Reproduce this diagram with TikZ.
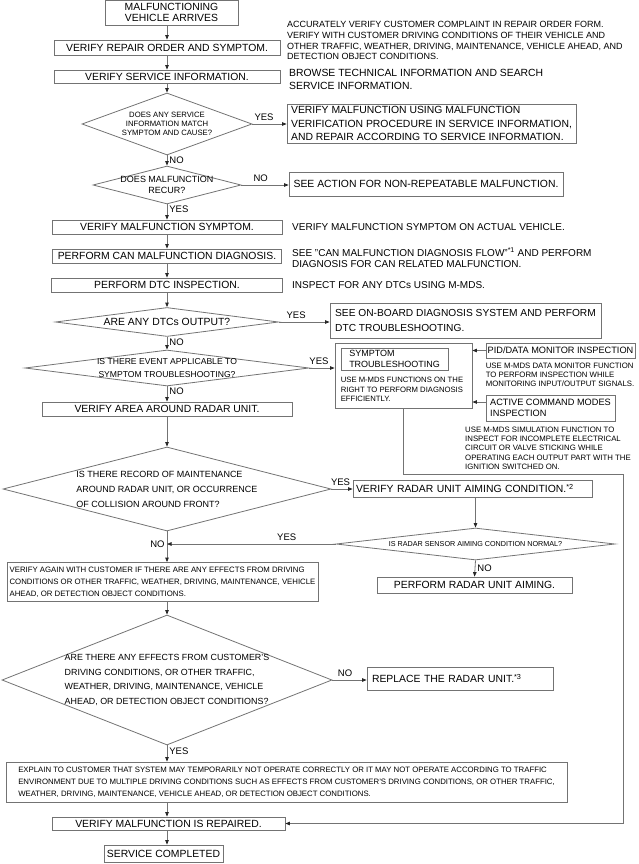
\documentclass[tikz,border=0pt]{standalone}
\usepackage{fontspec}
\setmainfont{Liberation Sans}
\usepackage{tikz}
\usetikzlibrary{positioning,arrows.meta,shapes.geometric}

\newcommand{\fmain}{\fontsize{10.4}{13.3}\selectfont}
\newcommand{\flab}{\fontsize{9.5}{11}\selectfont}
\newcommand{\fnote}{\fontsize{9}{10.8}\selectfont}
\newcommand{\fsmall}{\fontsize{7.8}{9.3}\selectfont}
\newcommand{\ftiny}{\fontsize{7.8}{12}\selectfont}

\begin{document}
\begin{tikzpicture}[x=1pt, y=-1pt,
        ln/.style={draw=black!55, line width=0.8pt},
        box/.style={ln, rectangle, inner xsep=3pt, inner ysep=0pt, align=center, font=\fmain},
        lbox/.style={box, align=left},
        dec/.style={ln, diamond, inner sep=0pt},
        dtext/.style={align=center, inner sep=0pt},
        arrow/.style={ln, -{Triangle[length=4.5pt, width=3.5pt, color=black!85]}},
        lab/.style={font=\flab, inner sep=0pt},
        note/.style={anchor=north west, align=left, inner sep=0pt, font=\fmain}
    ]
    \useasboundingbox (0,0) rectangle (639,864);

    \node[box, minimum width=133pt, minimum height=25pt, font=\fontsize{10.4}{11.5}\selectfont] (arrive) at (171.5,12.5) {MALFUNCTIONING\\VEHICLE ARRIVES};
    \node[box, minimum width=226pt, minimum height=15pt] (order)   at (167,47.5) {VERIFY REPAIR ORDER AND SYMPTOM.};
    \node[box, minimum width=226pt, minimum height=13pt] (svcinfo) at (167,76.5) {VERIFY SERVICE INFORMATION.};
    \node[dec, minimum width=170pt, minimum height=62pt] (match) at (167,124) {};
    \node[dtext, font=\fontsize{7.7}{8.9}\selectfont] (matchtxt) at (match) {DOES ANY SERVICE\\INFORMATION MATCH\\SYMPTOM AND CAUSE?};
    \node[lbox, minimum width=289pt, minimum height=39pt] (usevp) at (431.5,123.5) {VERIFY MALFUNCTION USING MALFUNCTION\\VERIFICATION PROCEDURE IN SERVICE INFORMATION,\\AND REPAIR ACCORDING TO SERVICE INFORMATION.};
    \node[dec, minimum width=148pt, minimum height=38pt] (recur) at (167,185) {};
    \node[dtext, font=\fontsize{9}{10.7}\selectfont] (recurtxt) at (recur) {DOES MALFUNCTION\\RECUR?};
    \node[box, minimum width=274pt, minimum height=24pt] (nonrep) at (426,184) {SEE ACTION FOR NON-REPEATABLE MALFUNCTION.};
    \node[box, minimum width=230pt, minimum height=14pt] (msym)   at (167,227) {VERIFY MALFUNCTION SYMPTOM.};
    \node[box, minimum width=229pt, minimum height=14pt] (canchk) at (167,256) {PERFORM CAN MALFUNCTION DIAGNOSIS.};
    \node[box, minimum width=231pt, minimum height=14pt] (dtcchk) at (167,285) {PERFORM DTC INSPECTION.};
    \node[dec, minimum width=223pt, minimum height=29pt] (dtcout) at (167,322) {};
    \node[dtext, font=\fmain] (dtcouttxt) at (dtcout) {ARE ANY DTCs OUTPUT?};
    \node[lbox, minimum width=271pt, minimum height=35pt, font=\fontsize{10.2}{14.5}\selectfont] (obd) at (465.5,320.5) {SEE ON-BOARD DIAGNOSIS SYSTEM AND PERFORM\\DTC TROUBLESHOOTING.};
    \node[dec, minimum width=284pt, minimum height=36pt] (event) at (167,368) {};
    \node[dtext, font=\fontsize{8.6}{13}\selectfont] (eventtxt) at (event) {IS THERE EVENT APPLICABLE TO\\SYMPTOM TROUBLESHOOTING?};

    \node[ln, rectangle, minimum width=137pt, minimum height=65pt] (symp) at (403.5,375.5) {};
    \node[box, align=left, minimum width=107pt, minimum height=22pt, font=\fontsize{9}{10.3}\selectfont, below right=5pt and 6pt of symp.north west] (stitle) {SYMPTOM\\TROUBLESHOOTING};
    \node[note, font=\fontsize{7.7}{9.7}\selectfont, below=6.5pt of stitle.south west, anchor=north west] (sdesc) {USE M-MDS FUNCTIONS ON THE\\RIGHT TO PERFORM DIAGNOSIS\\EFFICIENTLY.};
    \node[box, minimum width=149pt, minimum height=15pt, inner xsep=1pt, font=\fontsize{9.2}{11}\selectfont] (pid) at (560.5,350.5) {PID/DATA MONITOR INSPECTION};
    \node[note, font=\fsmall, below=4pt of pid.south west, anchor=north west] (piddesc) {USE M-MDS DATA MONITOR FUNCTION\\TO PERFORM INSPECTION WHILE\\MONITORING INPUT/OUTPUT SIGNALS.};
    \node[lbox, minimum width=129pt, minimum height=26pt, font=\fontsize{9.2}{11.5}\selectfont] (acm) at (550.5,408) {ACTIVE COMMAND MODES\\INSPECTION};
    \node[note, font=\fsmall] (acmdesc) at (465,426.5) {USE M-MDS SIMULATION FUNCTION TO\\INSPECT FOR INCOMPLETE ELECTRICAL\\CIRCUIT OR VALVE STICKING WHILE\\OPERATING EACH OUTPUT PART WITH THE\\IGNITION SWITCHED ON.};

    \node[box, minimum width=250pt, minimum height=14pt] (area) at (167,409) {VERIFY AREA AROUND RADAR UNIT.};
    \node[dec, minimum width=328pt, minimum height=84pt] (record) at (167,489) {};
    \node[dtext, align=left, font=\fontsize{9}{15}\selectfont] (recordtxt) at (record) {IS THERE RECORD OF MAINTENANCE\\AROUND RADAR UNIT, OR OCCURRENCE\\OF COLLISION AROUND FRONT?};
    \node[lbox, text width=233pt, minimum height=17pt] (aimcond) at (472.5,488.5) {VERIFY RADAR UNIT AIMING CONDITION.\textsuperscript{*2}};
    \node[dec, minimum width=279pt, minimum height=32pt] (normal) at (475.5,544) {};
    \node[dtext, font=\fontsize{7.2}{9}\selectfont] (normaltxt) at (normal) {IS RADAR SENSOR AIMING CONDITION NORMAL?};
    \node[box, minimum width=195pt, minimum height=16pt] (aiming) at (474.5,585) {PERFORM RADAR UNIT AIMING.};
    \node[lbox, minimum width=311pt, minimum height=39pt, inner xsep=2pt, font=\ftiny] (again) at (162.5,582) {VERIFY AGAIN WITH CUSTOMER IF THERE ARE ANY EFFECTS FROM DRIVING\\CONDITIONS OR OTHER TRAFFIC, WEATHER, DRIVING, MAINTENANCE, VEHICLE\\AHEAD, OR DETECTION OBJECT CONDITIONS.};
    \node[dec, minimum width=330pt, minimum height=130pt] (effects) at (167,680) {};
    \node[dtext, align=left, font=\fontsize{8.9}{14.5}\selectfont] (effectstxt) at (effects) {ARE THERE ANY EFFECTS FROM CUSTOMER'S\\DRIVING CONDITIONS, OR OTHER TRAFFIC,\\WEATHER, DRIVING, MAINTENANCE, VEHICLE\\AHEAD, OR DETECTION OBJECT CONDITIONS?};
    \node[lbox, text width=176pt, inner xsep=5pt, minimum height=23pt] (replace) at (460,678.5) {REPLACE THE RADAR UNIT.\textsuperscript{*3}};
    \node[lbox, minimum width=561pt, minimum height=40pt, font=\ftiny] (explain) at (286.5,782) {EXPLAIN TO CUSTOMER THAT SYSTEM MAY TEMPORARILY NOT OPERATE CORRECTLY OR IT MAY NOT OPERATE ACCORDING TO TRAFFIC\\ENVIRONMENT DUE TO MULTIPLE DRIVING CONDITIONS SUCH AS EFFECTS FROM CUSTOMER'S DRIVING CONDITIONS, OR OTHER TRAFFIC,\\WEATHER, DRIVING, MAINTENANCE, VEHICLE AHEAD, OR DETECTION OBJECT CONDITIONS.};
    \node[box, minimum width=233pt, minimum height=13pt] (repaired) at (168.5,823.5) {VERIFY MALFUNCTION IS REPAIRED.};
    \node[box, minimum width=119pt, minimum height=17pt] (done) at (163.5,853.5) {SERVICE COMPLETED};

    \node[note, font=\fnote] (n1) at (287,21) {ACCURATELY VERIFY CUSTOMER COMPLAINT IN REPAIR ORDER FORM.\\VERIFY WITH CUSTOMER DRIVING CONDITIONS OF THEIR VEHICLE AND\\OTHER TRAFFIC, WEATHER, DRIVING, MAINTENANCE, VEHICLE AHEAD, AND\\DETECTION OBJECT CONDITIONS.};
    \node[note, font=\fontsize{10.4}{12.4}\selectfont] (n2) at (289,69.5) {BROWSE TECHNICAL INFORMATION AND SEARCH\\SERVICE INFORMATION.};
    \node[note, font=\fontsize{10}{11.5}\selectfont] (n3) at (292,223.5) {VERIFY MALFUNCTION SYMPTOM ON ACTUAL VEHICLE.};
    \node[note, font=\fontsize{10}{11.5}\selectfont] (n4) at (292,247.5) {SEE "CAN MALFUNCTION DIAGNOSIS FLOW"\textsuperscript{*1} AND PERFORM\\DIAGNOSIS FOR CAN RELATED MALFUNCTION.};
    \node[note, font=\fontsize{10}{11.5}\selectfont] (n5) at (292,281.5) {INSPECT FOR ANY DTCs USING M-MDS.};

    \coordinate (rc) at (623,474);

    \draw[arrow] (arrive.south -| order.north) -- (order.north);
    \draw[arrow] (order.south) -- (svcinfo.north);
    \draw[arrow] (svcinfo.south) -- (match.north);
    \draw[arrow] (match.east) -- node[lab, above=3pt, pos=0.34]{YES} (match.east -| usevp.west);
    \draw[arrow] (match.south) -- node[lab, right=2pt]{NO} (recur.north);
    \draw[arrow] (recur.east) -- node[lab, above=3pt, pos=0.41]{NO} (recur.east -| nonrep.west);
    \draw[arrow] (recur.south) -- node[lab, right=2pt, pos=0.35]{YES} (msym.north);
    \draw[arrow] (msym.south) -- (canchk.north);
    \draw[arrow] (canchk.south) -- (dtcchk.north);
    \draw[arrow] (dtcchk.south) -- (dtcout.north);
    \draw[arrow] (dtcout.east) -- node[lab, above=3pt, pos=0.34]{YES} (dtcout.east -| obd.west);
    \draw[arrow] (dtcout.south) -- node[lab, right=2pt, pos=0.45]{NO} (event.north);
    \draw[arrow] (event.east) -- node[lab, above=3pt, pos=0.38]{YES} (event.east -| symp.west);
    \draw[arrow] (event.south) -- node[lab, right=2pt, pos=0.3]{NO} (area.north);
    \draw[arrow] (pid.west) -- (pid.west -| symp.east);
    \draw[arrow] ([yshift=6pt]acm.west) -- ([yshift=6pt]acm.west -| symp.east);
    \draw[arrow] (area.south) -- (record.north);
    \draw[arrow] (record.east) -- node[lab, above=3pt, pos=0.43]{YES} (record.east -| aimcond.west);
    \draw[arrow] (aimcond.south -| normal.north) -- (normal.north);
    \draw[arrow] (normal.south) -- node[lab, right=2pt]{NO} (aiming.north);
    \draw[arrow] (record.south) -- node[lab, left=2pt, pos=0.42]{NO} (record.south |- again.north);
    \draw[arrow] (normal.west) -- node[lab, above=3pt, pos=0.29]{YES} (normal.west -| record.south);
    \draw[arrow] (effects.north |- again.south) -- (effects.north);
    \draw[arrow] (effects.east) -- node[lab, above=3pt, pos=0.37]{NO} (effects.east -| replace.west);
    \draw[arrow] (effects.south) -- node[lab, right=2pt, pos=0.35]{YES} (effects.south |- explain.north);
    \draw[arrow] (effects.south |- explain.south) -- (effects.south |- repaired.north);
    \draw[arrow] (symp.south) |- (rc) |- (repaired.east);
    \draw[arrow] (repaired.south -| effects.south) -- (effects.south |- done.north);
\end{tikzpicture}
\end{document}
